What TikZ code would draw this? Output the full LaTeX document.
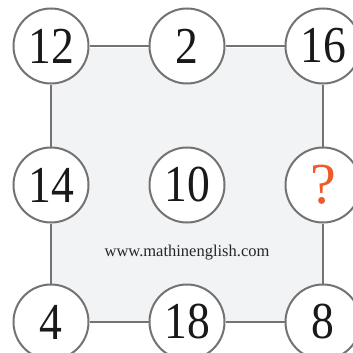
\documentclass[tikz,border=0pt]{standalone}
\usepackage{fontspec}
\setmainfont{Liberation Serif}
\begin{document}
\begin{tikzpicture}[x=1pt,y=-1pt,
  numcircle/.style={circle,draw=black!55,line width=2pt,fill=white,minimum size=75pt,inner sep=0pt,font=\fontsize{48}{48}\selectfont,text=black!90},
  edge/.style={draw=black!55,line width=2.2pt}]
\useasboundingbox (0,0) rectangle (353,353);
\fill[white] (0,0) rectangle (353,353);
\fill[fill={rgb,255:red,242;green,243;blue,245}] (51,48) rectangle (323,322);
\node[numcircle] (a) at (51,46) {\scalebox{0.95}[1.08]{12}};
\node[numcircle] (b) at (187,46) {\scalebox{0.95}[1.08]{2}};
\node[numcircle] (c) at (323,46) {\scalebox{0.95}[1.08]{16}};
\node[numcircle] (d) at (51,185) {\scalebox{0.95}[1.08]{14}};
\node[numcircle] (e) at (187,185) {\scalebox{0.95}[1.08]{10}};
\node[numcircle,text={rgb,255:red,240;green,90;blue,40},font=\fontsize{58}{58}\selectfont] (f) at (323,185) {?};
\node[numcircle] (g) at (51,322) {\scalebox{0.95}[1.08]{4}};
\node[numcircle] (h) at (187,322) {\scalebox{0.95}[1.08]{18}};
\node[numcircle] (i) at (323,322) {\scalebox{0.95}[1.08]{8}};
\node[font=\fontsize{16.5}{16.5}\selectfont,text=black!85] (w) at (187,253) {www.mathinenglish.com};
\draw[edge] (a) -- (b);
\draw[edge] (b) -- (c);
\draw[edge] (a) -- (d);
\draw[edge] (d) -- (g);
\draw[edge] (c) -- (f);
\draw[edge] (f) -- (i);
\draw[edge] (g) -- (h);
\draw[edge] (h) -- (i);
\end{tikzpicture}
\end{document}
